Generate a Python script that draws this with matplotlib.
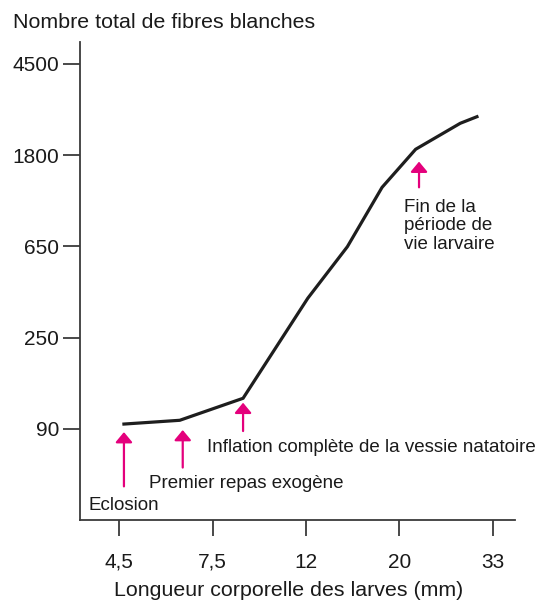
import numpy as np
import matplotlib
matplotlib.use("Agg")
import matplotlib.pyplot as plt
from matplotlib.patches import ArrowStyle

plt.rcParams['font.family'] = ['Liberation Sans', 'DejaVu Sans']

# longueur des larves (mm) et nombre total de fibres blanches
longueur = [4.6, 6.2, 8.7, 12.3, 15.2, 18.3, 21.9, 27.8, 30.4]
fibres = [95, 99, 126, 377, 663, 1270, 1927, 2561, 2753]

# graduations (échelle logarithmique, pas régulier en ln)
x_tick_ln = [1.5, 2.0, 2.5, 3.0, 3.5]
x_tick_labels = ['4,5', '7,5', '12', '20', '33']
y_tick_ln = [4.5, 5.5, 6.5, 7.5, 8.5]
y_tick_labels = ['90', '250', '650', '1800', '4500']

# événements : (texte, x, y pointe, y queue)
evenements = [
    ('Eclosion', 4.6, 87, 48),
    ('Premier repas exogène', 6.3, 89, 59),
    ('Inflation complète de la vessie natatoire', 8.7, 120, 88),
    ('Fin de la\npériode de\nvie larvaire', 22.3, 1683, 1270),
]

rose = '#e4007c'
gris = '#3a3a3a'
noir = '#1a1a1a'

fig = plt.figure(figsize=(5.39, 6.04), dpi=100)
ax = fig.add_axes([80 / 539, 1 - 520 / 604, 435 / 539, (520 - 41.7) / 604])

ax.plot(longueur, fibres, color='#1e1e1e', lw=2.3, solid_joinstyle='miter')

ax.set_xscale('log')
ax.set_yscale('log')
ax.set_xlim(np.exp(1.291), np.exp(3.618))
ax.set_ylim(np.exp(3.503), np.exp(8.742))
ax.set_xticks(np.exp(x_tick_ln))
ax.set_xticklabels(x_tick_labels)
ax.set_yticks(np.exp(y_tick_ln))
ax.set_yticklabels(y_tick_labels)
ax.minorticks_off()

for s in ['top', 'right']:
    ax.spines[s].set_visible(False)
for s in ['left', 'bottom']:
    ax.spines[s].set_color(gris)
    ax.spines[s].set_linewidth(1.3)

ax.tick_params(axis='x', length=11.5, width=1.3, color=gris, pad=12,
               labelsize=15, labelcolor=noir)
ax.tick_params(axis='y', length=12, width=1.3, color=gris, pad=3,
               labelsize=15, labelcolor=noir)

# flèches
fleche = ArrowStyle('-|>', head_length=0.36, head_width=0.3)
for nom, x, y1, y0 in evenements:
    ax.annotate('', xy=(x, y1), xytext=(x, y0),
                arrowprops=dict(arrowstyle=fleche, color=rose, lw=1.6,
                                mutation_scale=17, shrinkA=0, shrinkB=0))

# textes des événements
fig.text(88 / 539, 1 - 506 / 604, evenements[0][0], fontsize=13.5, va='center', color=noir)
fig.text(149 / 539, 1 - 484 / 604, evenements[1][0], fontsize=13.5, va='center', color=noir)
fig.text(207 / 539, 1 - 448 / 604, evenements[2][0], fontsize=13.5, va='center', color=noir)
fig.text(404 / 539, 1 - 226 / 604, evenements[3][0], fontsize=13.5, va='center', color=noir,
         linespacing=1.1)

fig.text(13 / 539, 1 - 23 / 604, 'Nombre total de fibres blanches', fontsize=15.4,
         va='center', color=noir)
fig.text(289 / 539, 1 - 590 / 604, 'Longueur corporelle des larves (mm)', fontsize=15.4,
         ha='center', va='center', color=noir)

fig.savefig('out.png', dpi=100)
